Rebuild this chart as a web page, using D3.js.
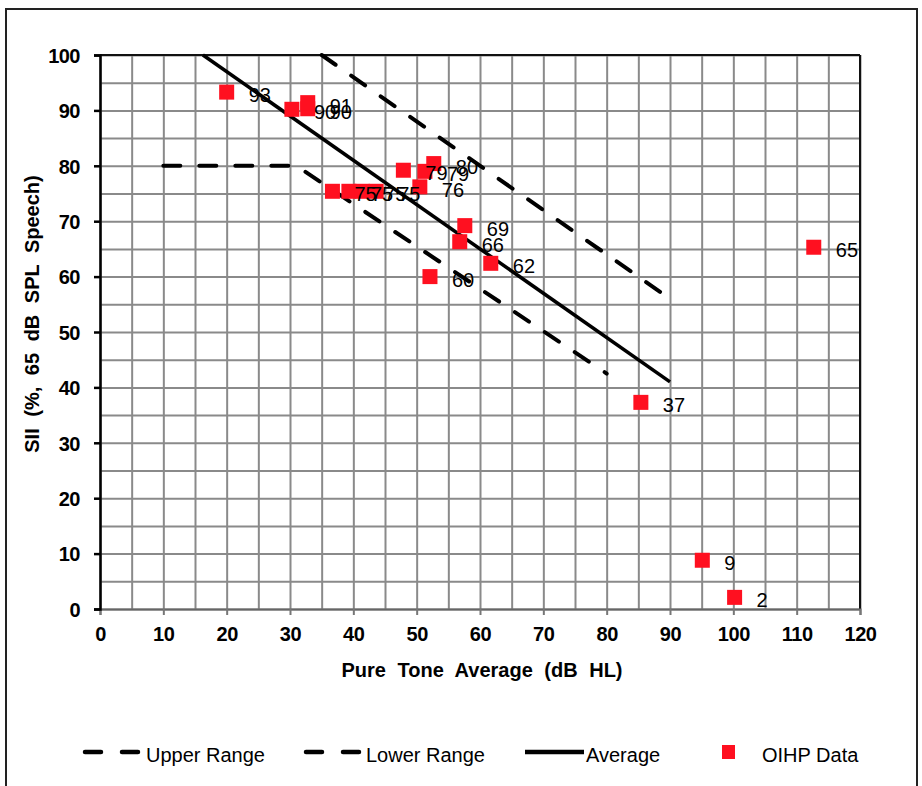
<!DOCTYPE html>
<html>
<head>
<meta charset="utf-8">
<script src="https://cdn.jsdelivr.net/npm/d3@7"></script>
<style>
  html, body { margin: 0; padding: 0; background: #fff; }
  svg { display: block; font-family: Arial, "Liberation Sans", sans-serif; }
</style>
</head>
<body>
<svg id="chart" width="922" height="786"></svg>
<script>
// Axis ticks
const xTicks = [0, 10, 20, 30, 40, 50, 60, 70, 80, 90, 100, 110, 120];
const yTicks = [0, 10, 20, 30, 40, 50, 60, 70, 80, 90, 100];

// Reference ranges: [PTA, SII] vertices
const upperRange = [[35, 100], [90, 56]];
const lowerRange = [[10, 80], [31, 80], [80, 42.5]];
const averageLine = [[16.25, 100], [90, 41]];

// OIHP measurements
const ptaValues = [20, 30.3, 32.8, 32.8, 36.7, 39.3, 41.4, 43.6, 47.9, 51.3, 52.7, 50.5, 57.6, 56.8, 61.7, 52.1, 85.4, 112.7, 95.1, 100.2];
const siiValues = [93.3, 90.2, 90.3, 91.4, 75.4, 75.4, 75.4, 75.4, 79.2, 79, 80.4, 76.2, 69.2, 66.3, 62.4, 60, 37.3, 65.3, 8.8, 2.1];

const legendLabels = ["Upper Range", "Lower Range", "Average", "OIHP Data"];

const svg = d3.select("#chart");
const plotLeft = 100, plotRight = 860, plotTop = 55, plotBottom = 609;

const x = d3.scaleLinear().domain([0, 120]).range([plotLeft, plotRight]);
const y = d3.scaleLinear().domain([0, 100]).range([plotBottom, plotTop]);

const red = "#ff1020";
const gridColor = "#8a8a8a";

// outer frame
svg.append("rect")
  .attr("x", 6).attr("y", 9).attr("width", 911).attr("height", 820)
  .attr("fill", "none").attr("stroke", "#222").attr("stroke-width", 2);

// grid every 5 units
const minorX = d3.range(0, 121, 5);
const minorY = d3.range(0, 101, 5);
svg.append("g")
  .attr("transform", `translate(0,${plotBottom})`)
  .call(d3.axisBottom(x).tickValues(minorX).tickSize(-(plotBottom - plotTop)).tickFormat(""))
  .call(g => g.select(".domain").remove())
  .call(g => g.selectAll("line").attr("stroke", gridColor).attr("stroke-width", 2));
svg.append("g")
  .attr("transform", `translate(${plotLeft},0)`)
  .call(d3.axisLeft(y).tickValues(minorY).tickSize(-(plotRight - plotLeft)).tickFormat(""))
  .call(g => g.select(".domain").remove())
  .call(g => g.selectAll("line").attr("stroke", gridColor).attr("stroke-width", 2));

// plot border: top and right dark
svg.append("line").attr("x1", plotLeft).attr("x2", plotRight).attr("y1", plotTop).attr("y2", plotTop)
  .attr("stroke", "#111").attr("stroke-width", 2);
svg.append("line").attr("x1", plotRight).attr("x2", plotRight).attr("y1", plotTop).attr("y2", plotBottom)
  .attr("stroke", "#111").attr("stroke-width", 2);

// x axis
const xAxis = svg.append("g")
  .attr("transform", `translate(0,${plotBottom})`)
  .call(d3.axisBottom(x).tickValues(xTicks).tickSize(6).tickPadding(12).tickFormat(d3.format("d")));
xAxis.select(".domain").attr("stroke", "#666").attr("stroke-width", 2);
xAxis.selectAll(".tick line").attr("stroke", "#777").attr("stroke-width", 2);
xAxis.selectAll("text")
  .attr("font-size", 20).attr("font-weight", "bold").attr("fill", "#000")
  .attr("font-family", "Arial, 'Liberation Sans', sans-serif")
  .attr("letter-spacing", "-0.4px");

// y axis
const yAxis = svg.append("g")
  .attr("transform", `translate(${plotLeft},0)`)
  .call(d3.axisLeft(y).tickValues(yTicks).tickSize(6).tickPadding(14).tickFormat(d3.format("d")));
yAxis.select(".domain").attr("stroke", "#000").attr("stroke-width", 2.5);
yAxis.selectAll(".tick line").attr("stroke", "#000").attr("stroke-width", 2.5);
yAxis.selectAll("text")
  .attr("font-size", 20).attr("font-weight", "bold").attr("fill", "#000")
  .attr("font-family", "Arial, 'Liberation Sans', sans-serif")
  .attr("letter-spacing", "-0.5px")
  .attr("dy", "0.36em");

// axis titles
svg.append("text")
  .attr("x", 482).attr("y", 677)
  .attr("text-anchor", "middle")
  .attr("font-size", 20).attr("font-weight", "bold").attr("word-spacing", "6px")
  .text("Pure Tone Average (dB HL)");
svg.append("text")
  .attr("transform", `translate(39,314) rotate(-90)`)
  .attr("text-anchor", "middle")
  .attr("font-size", 20).attr("font-weight", "bold").attr("word-spacing", "6px")
  .text("SII (%, 65 dB SPL Speech)");

// reference lines
const line = d3.line().x(d => x(d[0])).y(d => y(d[1]));
const dash = "17,19";
svg.append("path").datum(upperRange).attr("d", line)
  .attr("fill", "none").attr("stroke", "#000").attr("stroke-width", 4)
  .attr("stroke-dasharray", dash).attr("stroke-linecap", "round");
svg.append("path").datum(lowerRange).attr("d", line)
  .attr("fill", "none").attr("stroke", "#000").attr("stroke-width", 4)
  .attr("stroke-dasharray", dash).attr("stroke-linecap", "round");
svg.append("path").datum(averageLine).attr("d", line)
  .attr("fill", "none").attr("stroke", "#000").attr("stroke-width", 3.5);

// data points
const pts = ptaValues.map((p, i) => ({ pta: p, sii: siiValues[i] }));
const sq = 15;
svg.append("g").selectAll("rect").data(pts).join("rect")
  .attr("x", d => x(d.pta) - sq / 2).attr("y", d => y(d.sii) - sq / 2)
  .attr("width", sq).attr("height", sq).attr("fill", red);
svg.append("g").selectAll("text").data(pts).join("text")
  .attr("x", d => x(d.pta) + 22).attr("y", d => y(d.sii) + 10)
  .attr("font-size", 20).attr("fill", "#000")
  .text(d => d3.format(".0f")(d.sii));

// legend
const ly = 752;
const lg = svg.append("g");
const legendItems = [
  { label: legendLabels[0], type: "dash", x0: 85, x1: 142, tx: 146 },
  { label: legendLabels[1], type: "dash", x0: 306, x1: 362, tx: 366 },
  { label: legendLabels[2], type: "solid", x0: 525, x1: 584, tx: 586 },
  { label: legendLabels[3], type: "square", x0: 722, x1: 735, tx: 762 }
];
legendItems.forEach(it => {
  if (it.type === "square") {
    lg.append("rect").attr("x", it.x0).attr("y", ly - 7).attr("width", 13).attr("height", 14).attr("fill", red);
  } else {
    lg.append("line").attr("x1", it.x0).attr("x2", it.x1).attr("y1", ly).attr("y2", ly)
      .attr("stroke", "#000").attr("stroke-width", 4.5)
      .attr("stroke-linecap", it.type === "dash" ? "round" : "butt")
      .attr("stroke-dasharray", it.type === "dash" ? "16,21" : null);
  }
  lg.append("text").attr("x", it.tx).attr("y", ly + 10)
    .attr("font-size", 20).attr("fill", "#000").text(it.label);
});
</script>
</body>
</html>
